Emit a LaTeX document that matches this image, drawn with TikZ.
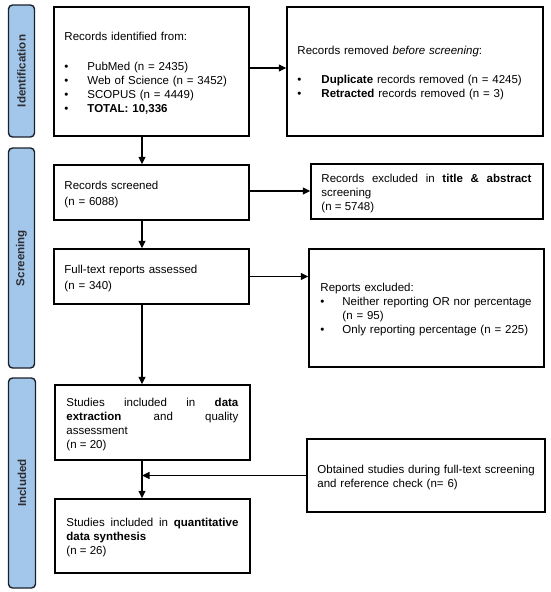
\documentclass[tikz,border=0pt]{standalone}
\usepackage{fontspec}
\setmainfont{Liberation Sans}
\usetikzlibrary{arrows.meta}
\definecolor{phaseblue}{RGB}{163,199,235}
\definecolor{phaseborder}{RGB}{28,32,42}
\definecolor{phasetext}{RGB}{45,45,50}
\newcommand\pitem[2][23pt]{\par\noindent\hangindent=#1\hangafter=1\makebox[#1][l]{\textbullet}#2\par}
\begin{document}
\begin{tikzpicture}[x=1pt,y=-1pt,
  box/.style={draw=black, line width=1.5pt, fill=white, inner sep=0pt, rectangle},
  phase/.style={draw=phaseborder, fill=phaseblue, line width=1.4pt, rounded corners=4pt, inner sep=0pt,
    rotate=90, font=\fontsize{11.6}{14}\selectfont\bfseries, text=phasetext},
  txt/.style={inner sep=0pt, anchor=west, yshift=-2pt, font=\fontsize{11.5}{14}\selectfont},
  arr/.style={line width=1.1pt, -{Triangle[length=7.5pt,width=7pt]}},
]
\useasboundingbox (0,0) rectangle (550,592);
% phase labels
\node[phase, minimum width=132pt, minimum height=26pt] (p1) at (21.5,71) {Identification};
\node[phase, minimum width=220pt, minimum height=26pt] (p2) at (21.5,258) {Screening};
\node[phase, minimum width=210pt, minimum height=27pt] (p3) at (22,483) {Included};
% boxes
\node[box, minimum width=195pt, minimum height=129pt] (b1) at (151.5,71.5) {};
\node[box, minimum width=256pt, minimum height=129pt] (b2) at (415,71.5) {};
\node[box, minimum width=195pt, minimum height=55pt] (b3) at (151.5,192.5) {};
\node[box, minimum width=232pt, minimum height=55pt] (b4) at (427,191.5) {};
\node[box, minimum width=195pt, minimum height=55pt] (b5) at (151.5,276.5) {};
\node[box, minimum width=235pt, minimum height=118pt] (b6) at (426.5,308) {};
\node[box, minimum width=195pt, minimum height=75pt] (b7) at (152.5,422.5) {};
\node[box, minimum width=238pt, minimum height=73pt] (b8) at (426,475.5) {};
\node[box, minimum width=195pt, minimum height=74pt] (b9) at (152.5,536) {};
% texts
\node[txt, text width=180pt, align=left] (t1) at ([xshift=11pt]b1.west) {Records identified from:\par\vskip16pt
\pitem{PubMed (n = 2435)}
\pitem{Web of Science (n = 3452)}
\pitem{SCOPUS (n = 4449)}
\pitem{\textbf{TOTAL: 10,336}}};
\node[txt, text width=240pt, align=left] (t2) at ([xshift=11pt]b2.west) {Records removed \textit{before screening}:\par\vskip15pt
\pitem[24pt]{\textbf{Duplicate} records removed (n = 4245)}
\pitem[24pt]{\textbf{Retracted} records removed (n = 3)}};
\node[txt, text width=180pt, align=left] (t3) at ([xshift=11pt]b3.west) {Records screened\\[2pt](n = 6088)};
\node[txt, text width=210pt, align=justify] (t4) at ([xshift=11pt]b4.west) {Records excluded in \textbf{title \& abstract}\linebreak screening\par (n = 5748)};
\node[txt, text width=180pt, align=left] (t5) at ([xshift=11pt]b5.west) {Full-text reports assessed\\[2pt](n = 340)};
\node[txt, text width=215pt, align=left] (t6) at ([xshift=12pt]b6.west) {Reports excluded:
\pitem[22pt]{Neither reporting OR nor percentage\newline (n = 95)}
\pitem[22pt]{Only reporting percentage (n = 225)}};
\node[txt, text width=172pt, align=justify] (t7) at ([xshift=12pt]b7.west) {Studies included in \textbf{data}\linebreak \textbf{extraction} and quality\linebreak assessment\par (n = 20)};
\node[txt, text width=222pt, align=left] (t8) at ([xshift=11pt]b8.west) {Obtained studies during full-text screening\\and reference check (n= 6)};
\node[txt, text width=172pt, align=justify] (t9) at ([xshift=12pt]b9.west) {Studies included in \textbf{quantitative}\linebreak \textbf{data synthesis}\par (n = 26)};
% main column
\coordinate (col) at (142,0);
\draw[arr] (b1.south -| col) -- (b3.north -| col);
\draw[arr] (b3.south -| col) -- (b5.north -| col);
\draw[arr] (b5.south -| col) -- (b7.north -| col);
\draw[arr] (b7.south -| col) -- (b9.north -| col);
\draw[arr] ([yshift=3.5pt]b1.east) -- ([yshift=3.5pt]b1.east -| b2.west);
\draw[arr] ([yshift=1.5pt]b3.east) -- ([yshift=1.5pt]b3.east -| b4.west);
\draw[arr] (b5.east) -- (b5.east -| b6.west);
\draw[arr] (b8.west) -- (b8.west -| col);
\end{tikzpicture}
\end{document}
